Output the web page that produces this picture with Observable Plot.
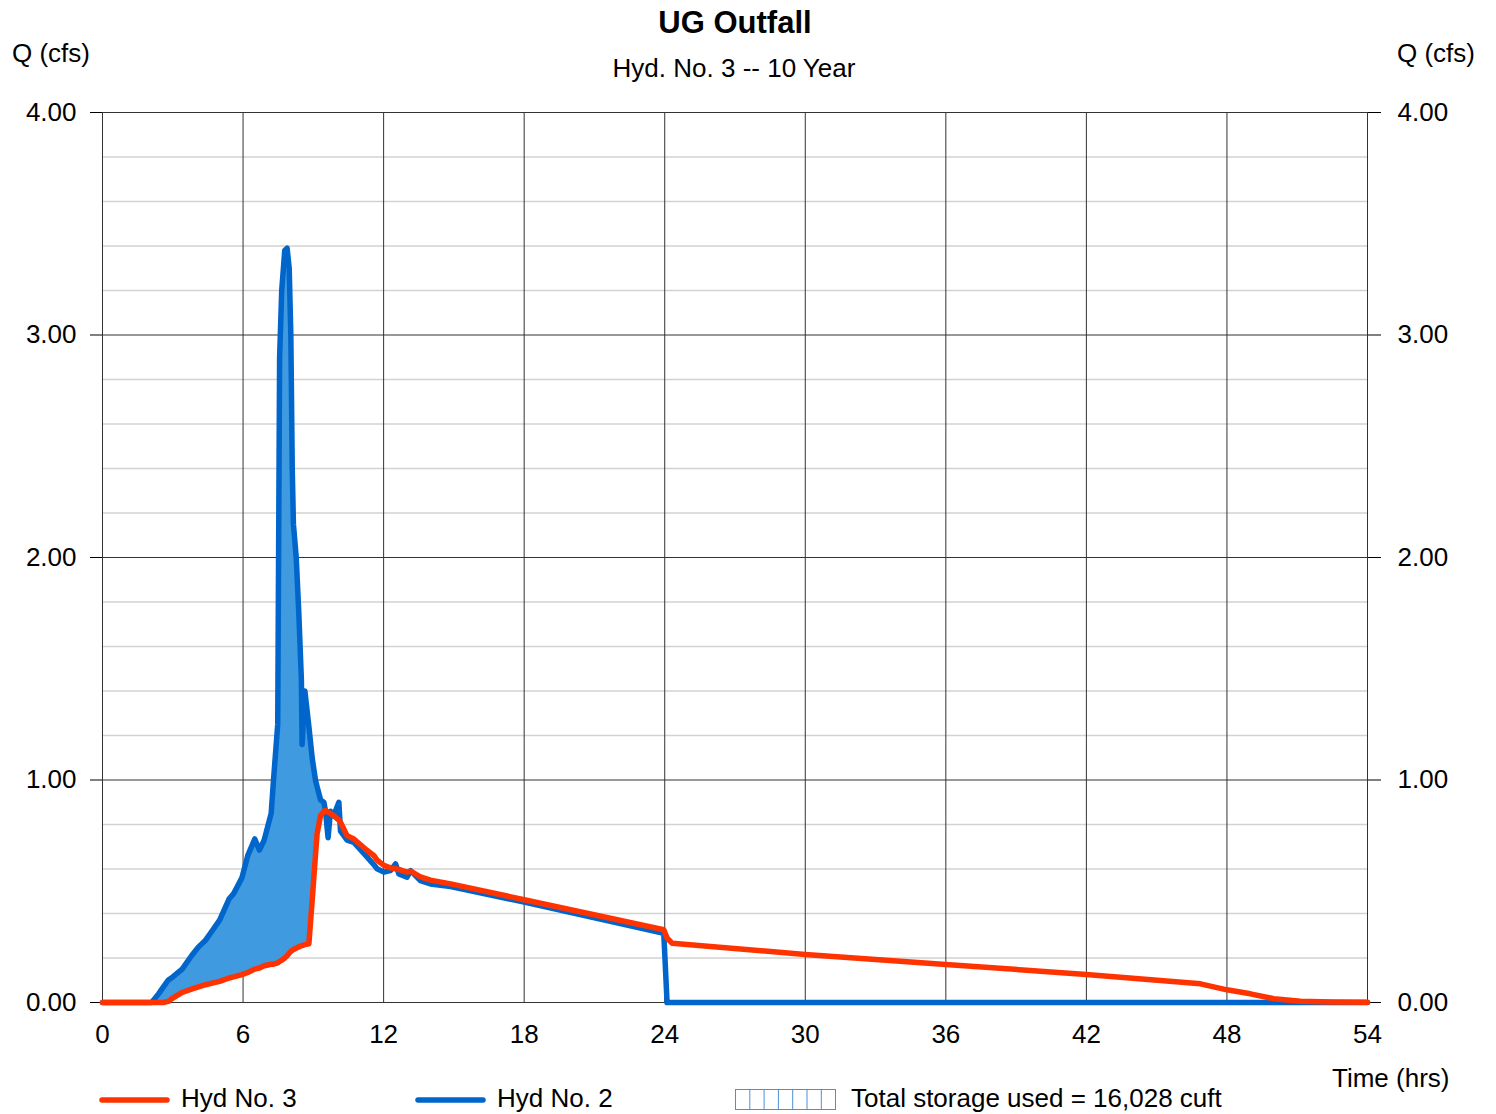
<!DOCTYPE html>
<html><head><meta charset="utf-8">
<script src="https://cdn.jsdelivr.net/npm/d3@7"></script>
<script src="https://cdn.jsdelivr.net/npm/@observablehq/plot@0.6"></script>
<style>
body{margin:0;background:#fff;font-family:"Liberation Sans",Arial,sans-serif;}
#wrap{position:relative;width:1496px;height:1114px;overflow:hidden;}
#chart{position:absolute;left:0;top:0;}
.t{position:absolute;white-space:nowrap;color:#000;font-size:26px;line-height:1;}
</style></head><body>
<div id="wrap">
  <div id="chart"></div>
  <div class="t" style="left:0;width:1470px;text-align:center;top:7px;font-size:31px;font-weight:bold">UG Outfall</div>
  <div class="t" style="left:0;width:1468px;text-align:center;top:55px">Hyd. No. 3 -- 10 Year</div>
  <div class="t" style="left:12px;top:40px">Q (cfs)</div>
  <div class="t" style="left:1397px;top:40px">Q (cfs)</div>
  <div class="t" style="left:1332px;top:1065px">Time (hrs)</div>
  <svg style="position:absolute;left:0;top:1085px" width="1496" height="29">
    <line x1="102" x2="167" y1="15" y2="15" stroke="#ff3300" stroke-width="5.5" stroke-linecap="round"/>
    <line x1="418" x2="483" y1="15" y2="15" stroke="#0066cc" stroke-width="5.5" stroke-linecap="round"/>
    <g id="hatch"></g>
  </svg>
  <div class="t" style="left:181px;top:1085px">Hyd No. 3</div>
  <div class="t" style="left:497px;top:1085px">Hyd No. 2</div>
  <div class="t" style="left:851px;top:1085px">Total storage used = 16,028 cuft</div>
</div>
<script>
// Time (hrs)
const hours = [0, 2.1, 2.4, 2.6, 2.8, 3.0, 3.4, 3.8, 4.1, 4.4, 4.6, 5.0, 5.4, 5.6, 5.95, 6.2, 6.5, 6.7, 6.9, 7.2, 7.3, 7.48, 7.56, 7.65, 7.78, 7.88, 7.97, 8.04, 8.1, 8.15, 8.27, 8.38, 8.49, 8.52, 8.64, 8.81, 8.95, 9.09, 9.16, 9.31, 9.45, 9.52, 9.63, 9.73, 9.87, 10.09, 10.16, 10.44, 10.73, 11.3, 11.58, 11.72, 12.01, 12.29, 12.51, 12.65, 13.0, 13.15, 13.57, 14.0, 14.86, 18.0, 23.96, 24.1, 24.32, 30, 36, 42, 46.87, 48.0, 49.0, 50.0, 51.14, 52.5, 54];
// Hyd No. 2 (inflow), cfs
const hyd2 = [0, 0, 0.04, 0.07, 0.10, 0.115, 0.15, 0.21, 0.25, 0.28, 0.31, 0.37, 0.465, 0.49, 0.56, 0.66, 0.735, 0.685, 0.73, 0.85, 1.0, 1.25, 2.9, 3.2, 3.38, 3.39, 3.3, 3.0, 2.4, 2.15, 2.0, 1.75, 1.45, 1.16, 1.40, 1.24, 1.1, 1.0, 0.97, 0.91, 0.9, 0.86, 0.74, 0.86, 0.84, 0.9, 0.77, 0.73, 0.72, 0.653, 0.62, 0.601, 0.586, 0.593, 0.623, 0.578, 0.563, 0.593, 0.548, 0.533, 0.521, 0.451, 0.311, 0, 0, 0, 0, 0, 0, 0, 0, 0, 0, 0, 0];
// Hyd No. 3 (outflow), cfs
const hyd3 = [0, 0, 0, 0, 0.005, 0.02, 0.045, 0.06, 0.07, 0.08, 0.085, 0.095, 0.11, 0.115, 0.125, 0.135, 0.15, 0.155, 0.165, 0.172, 0.172, 0.178, 0.185, 0.19, 0.2, 0.21, 0.222, 0.23, 0.234, 0.238, 0.245, 0.25, 0.255, 0.256, 0.26, 0.264, 0.458, 0.66, 0.758, 0.84, 0.86, 0.863, 0.855, 0.85, 0.84, 0.82, 0.81, 0.75, 0.735, 0.683, 0.661, 0.64, 0.616, 0.605, 0.601, 0.598, 0.586, 0.59, 0.565, 0.55, 0.533, 0.462, 0.327, 0.29, 0.266, 0.216, 0.171, 0.126, 0.084, 0.057, 0.039, 0.017, 0.006, 0.002, 0.001];
// Axis ticks
const xTicks = [0, 6, 12, 18, 24, 30, 36, 42, 48, 54];
const yMajor = [0, 1, 2, 3, 4];
const yMinor = [0.2, 0.4, 0.6, 0.8, 1.2, 1.4, 1.6, 1.8, 2.2, 2.4, 2.6, 2.8, 3.2, 3.4, 3.6, 3.8];

const rows = hours.map((t, i) => ({t, blue: hyd2[i], red: hyd3[i]}));
const fmt = d3.format(".2f");

const chart = Plot.plot({
  width: 1496, height: 1114,
  marginTop: 112, marginBottom: 112, marginLeft: 102, marginRight: 129,
  style: {fontFamily: "'Liberation Sans', Arial, sans-serif", fontSize: "26px", color: "#000", background: "#fff"},
  x: {domain: [0, 54]},
  y: {domain: [0, 4]},
  marks: [
    Plot.ruleY(yMinor, {stroke: "#d2d2d2", strokeWidth: 1.5}),
    Plot.ruleX(xTicks, {stroke: "#333", strokeWidth: 1}),
    Plot.ruleY(yMajor, {stroke: "#333", strokeWidth: 1}),
    Plot.axisY({ticks: yMajor, tickFormat: fmt, tickSize: 12, tickPadding: 14, label: null, fontSize: 26}),
    Plot.axisY({anchor: "right", ticks: yMajor, tickFormat: fmt, tickSize: 13, tickPadding: 17, label: null, fontSize: 26}),
    Plot.axisX({ticks: xTicks, tickSize: 0, tickPadding: 22, label: null, fontSize: 26}),
    Plot.areaY(rows, {x: "t", y1: "red", y2: d => Math.max(d.blue, d.red), fill: "#3f9ae0", curve: "linear"}),
    Plot.line(rows, {x: "t", y: "blue", stroke: "#0066cc", strokeWidth: 5.5, strokeLinejoin: "round", strokeLinecap: "round"}),
    Plot.line(rows, {x: "t", y: "red", stroke: "#ff3300", strokeWidth: 5.5, strokeLinejoin: "round", strokeLinecap: "round"})
  ]
});
document.getElementById("chart").appendChild(chart);

// legend hatch box
const g = d3.select("#hatch");
g.append("rect").attr("x", 735.5).attr("y", 4.5).attr("width", 100).attr("height", 20)
  .attr("fill", "#fff").attr("stroke", "#4a90d9").attr("stroke-width", 1);
d3.range(1, 7).forEach(i => {
  g.append("line").attr("x1", 735.5 + i * 14.3).attr("x2", 735.5 + i * 14.3)
    .attr("y1", 4.5).attr("y2", 24.5).attr("stroke", "#4a90d9").attr("stroke-width", 1);
});
</script>
</body></html>
